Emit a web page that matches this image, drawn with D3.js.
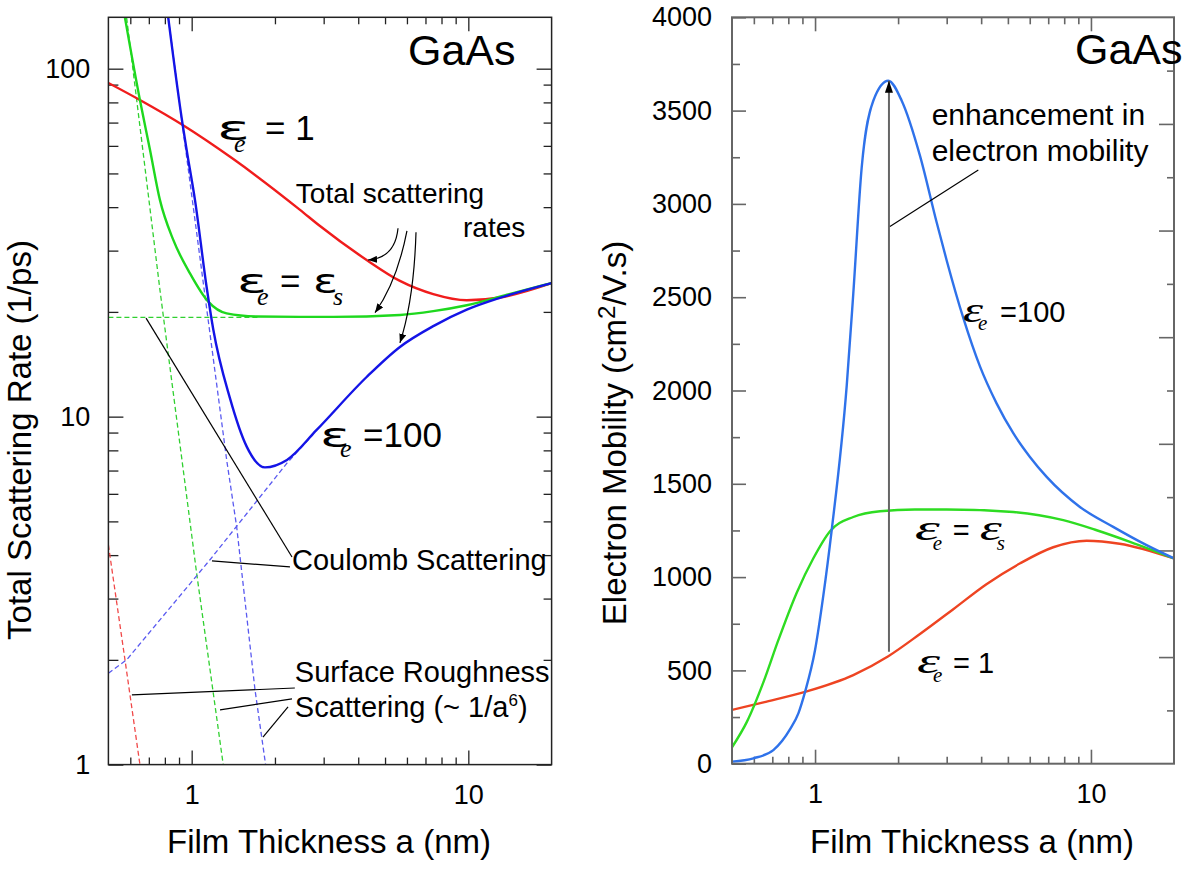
<!DOCTYPE html>
<html>
<head>
<meta charset="utf-8">
<script src="https://cdn.jsdelivr.net/npm/d3@7"></script>
<style>
  body { margin: 0; background: #fff; }
  svg { font-family: "Liberation Sans", Arial, Helvetica, sans-serif; }
</style>
</head>
<body>
<svg id="chart" width="1185" height="869"></svg>
<script>
// ---------- values ----------
const thicknessDomain = [0.5, 20];      // film thickness a (nm), both panels
const rateDomain = [1, 140.5];          // total scattering rate (1/ps)
const mobilityDomain = [0, 4000];       // electron mobility (cm2/V.s)

const thicknessTicks = [1, 10];
const thicknessMinor = [0.6, 0.7, 0.8, 0.9, 2, 3, 4, 5, 6, 7, 8, 9];
const rateTicks = [1, 10, 100];
const rateMinor = [2, 3, 4, 5, 6, 7, 8, 9, 20, 30, 40, 50, 60, 70, 80, 90];
const mobilityTicks = [0, 500, 1000, 1500, 2000, 2500, 3000, 3500, 4000];
const mobilityMinor = [250, 750, 1250, 1750, 2250, 2750, 3250, 3750];
// right edge of the mobility frame has its own unlabelled tick spacing
const frameDomain = [0, 7];
const frameTicks = [1, 2, 3, 4, 5, 6];
const frameMinor = [0.5, 1.5, 2.5, 3.5, 4.5, 5.5, 6.5];

// total scattering rates [a, rate]
const rateEps1 = [[0.5, 91.0], [0.65, 81.3], [0.928, 68.9], [1.414, 55.0], [2.464, 39.3], [2.91, 35.3],
  [4.29, 28.2], [5.66, 24.55], [7.47, 22.5], [9.87, 21.6], [13.0, 22.0], [20, 24.2]];
const rateEpsS = [[0.574, 140], [0.65, 81.3], [0.707, 58.4], [0.768, 41.9], [0.858, 32.2], [0.986, 25.8],
  [1.148, 21.4], [1.338, 19.8], [1.718, 19.4], [2.464, 19.35], [3.25, 19.35], [5.66, 19.6], [7.47, 20.1],
  [9.87, 20.9], [13.8, 22.4], [20, 24.2]];
const rateEps100 = [[0.823, 140], [0.928, 68.9], [0.959, 58.4], [1.028, 41.9], [1.133, 23.5], [1.197, 17.8],
  [1.375, 11.3], [1.581, 8.2], [1.84, 7.15], [2.21, 7.51], [2.83, 9.16], [4.29, 13.0], [5.66, 15.86],
  [7.47, 18.2], [9.87, 20.3], [13.0, 21.95], [20, 24.2]];

// component rates (dashed)
const coulombEpsS = [[0.5, 19.3], [1.75, 19.3]];
const coulombEps100 = [[0.5, 1.83], [0.582, 2.0], [1.165, 3.88], [2.21, 7.35], [2.75, 8.9]];
const roughEps1 = [[0.5, 4.28], [0.574, 2.0], [0.65, 1.0]];
const roughEpsS = [[0.582, 140], [0.768, 23.1], [1.042, 3.55], [1.30, 1.0]];
const roughEps100 = [[0.823, 140], [1.338, 7.51], [1.454, 4.83], [1.694, 1.64], [1.85, 1.0]];

// electron mobility [a, mobility]
const mobilityEps1 = [[0.5, 288], [0.65, 329], [0.92, 385], [1.376, 475], [1.843, 576], [2.40, 695],
  [3.17, 828], [4.18, 962], [5.54, 1074], [7.30, 1160], [9.65, 1195], [12.7, 1179], [20, 1100]];
const mobilityEpsS = [[0.5, 88], [0.566, 224], [0.65, 437], [0.736, 662], [0.859, 918], [0.986, 1101],
  [1.133, 1246], [1.376, 1322], [1.72, 1353], [2.3, 1362], [3.0, 1362], [5.23, 1349], [7.94, 1305],
  [10.49, 1251], [13.85, 1189], [20, 1100]];
const mobilityEps100 = [[0.5, 11], [0.598, 29], [0.706, 73], [0.812, 185], [0.87, 270], [0.92, 385], [1.0, 609],
  [1.072, 903], [1.149, 1252], [1.303, 2029], [1.376, 2520], [1.476, 3196], [1.626, 3553], [1.843, 3660],
  [2.061, 3553], [2.40, 3259], [2.76, 2900], [3.00, 2697], [3.45, 2386], [3.96, 2129], [4.55, 1931],
  [5.23, 1771], [6.01, 1644], [6.91, 1537], [9.12, 1376], [12.04, 1269], [15.91, 1171], [20, 1100]];

// annotations (data coordinates)
const rateArrows = [[[5.57, 34.8], [4.34, 28.2]], [[6.00, 34.2], [4.60, 19.9]], [[6.47, 33.9], [5.66, 16.3]]];
const coulombPointers = [[[0.684, 19.2], [2.305, 3.95]], [[1.184, 3.85], [2.266, 3.70]]];
const roughPointers = [[[0.608, 1.586], [2.36, 1.66]], [[1.266, 1.436], [2.305, 1.545]], [[1.81, 1.20], [2.23, 1.465]]];
const enhancementArrow = [[1.853, 600], [1.853, 3660]];
const enhancementPointer = [[1.868, 2879], [3.906, 3182]];

// ---------- layout ----------
const L = {x0: 108.4, x1: 551.6, y0: 17.3, y1: 764.6};
const R = {x0: 732, x1: 1174, y0: 17.3, y1: 763.7};

const svg = d3.select("#chart");

const xL = d3.scaleLog().domain(thicknessDomain).range([L.x0, L.x1]);
const yL = d3.scaleLog().domain(rateDomain).range([L.y1, L.y0]);
const xR = d3.scaleLog().domain(thicknessDomain).range([R.x0, R.x1]);
const yR = d3.scaleLinear().domain(mobilityDomain).range([R.y1, R.y0]);
const yFrame = d3.scaleLinear().domain(frameDomain).range([R.y1, R.y0]);

const defs = svg.append("defs");
[["clipL", L], ["clipR", R]].forEach(([id, b]) => {
  defs.append("clipPath").attr("id", id).append("rect")
    .attr("x", b.x0).attr("y", b.y0).attr("width", b.x1 - b.x0).attr("height", b.y1 - b.y0);
});
function marker(id, len, wid) {
  defs.append("marker").attr("id", id)
    .attr("viewBox", `0 0 ${len} ${wid}`).attr("refX", len).attr("refY", wid / 2)
    .attr("markerWidth", len).attr("markerHeight", wid)
    .attr("markerUnits", "userSpaceOnUse").attr("orient", "auto")
    .append("path").attr("d", `M0,0L${len},${wid / 2}L0,${wid}Z`).attr("fill", "#000");
}
marker("headSmall", 9, 7);
marker("headBig", 12, 8);

// ---------- axes ----------
function axisPart(g, gen, tr, vals, size, pad, fmt, color, width) {
  const a = g.append("g").attr("transform", tr)
    .call(gen.tickValues(vals).tickSize(-size).tickPadding(pad).tickFormat(fmt));
  a.select(".domain").remove();
  a.attr("font-family", null).attr("font-size", null);
  a.selectAll("line").attr("stroke", color).attr("stroke-width", width);
  a.selectAll("text").style("font-size", "27px").attr("fill", "#000");
  return a;
}
const none = () => "";
const fmtD = d3.format("d");

function panelAxes(x, y, yTicks, yMinor, b, color, width, yMaj, yMin, yPad) {
  const g = svg.append("g");
  axisPart(g, d3.axisBottom(x), `translate(0,${b.y1})`, thicknessTicks, 14, 20, fmtD, color, width);
  axisPart(g, d3.axisBottom(x), `translate(0,${b.y1})`, thicknessMinor, 7, 0, none, color, width);
  axisPart(g, d3.axisTop(x), `translate(0,${b.y0})`, thicknessTicks, 14, 0, none, color, width);
  axisPart(g, d3.axisTop(x), `translate(0,${b.y0})`, thicknessMinor, 7, 0, none, color, width);
  axisPart(g, d3.axisLeft(y), `translate(${b.x0},0)`, yTicks, yMaj, yPad, fmtD, color, width);
  axisPart(g, d3.axisLeft(y), `translate(${b.x0},0)`, yMinor, yMin, 0, none, color, width);
  return g;
}

panelAxes(xL, yL, rateTicks, rateMinor, L, "#222", 1.3, 15, 10, 18);
{
  const g = svg.append("g");
  axisPart(g, d3.axisRight(yL), `translate(${L.x1},0)`, rateTicks, 15, 0, none, "#222", 1.3);
  axisPart(g, d3.axisRight(yL), `translate(${L.x1},0)`, rateMinor, 8, 0, none, "#222", 1.3);
}
panelAxes(xR, yR, mobilityTicks, mobilityMinor, R, "#666", 1.6, 14, 8, 20);
{
  const g = svg.append("g");
  axisPart(g, d3.axisRight(yFrame), `translate(${R.x1},0)`, frameTicks, 15, 0, none, "#666", 1.6);
  axisPart(g, d3.axisRight(yFrame), `translate(${R.x1},0)`, frameMinor, 7, 0, none, "#666", 1.6);
}

// ---------- curves ----------
const lineL = d3.line().x(d => xL(d[0])).y(d => yL(d[1]));
const lineR = d3.line().x(d => xR(d[0])).y(d => yR(d[1]));
const smooth = d3.curveMonotoneX;

const gL = svg.append("g").attr("clip-path", "url(#clipL)");
[[roughEps1, "#f04848"], [roughEpsS, "#30d030"], [roughEps100, "#5a5af0"],
 [coulombEpsS, "#30d030"], [coulombEps100, "#5a5af0"]].forEach(([d, c]) => {
  gL.append("path").datum(d).attr("d", lineL.curve(d3.curveLinear))
    .attr("fill", "none").attr("stroke", c).attr("stroke-width", 1.3).attr("stroke-dasharray", "5,3");
});
[[rateEps1, "#f01c1c"], [rateEpsS, "#1ed81e"], [rateEps100, "#1414e6"]].forEach(([d, c]) => {
  gL.append("path").datum(d).attr("d", lineL.curve(smooth))
    .attr("fill", "none").attr("stroke", c).attr("stroke-width", 2.4);
});

const gR = svg.append("g").attr("clip-path", "url(#clipR)");
[[mobilityEps1, "#ee4422"], [mobilityEpsS, "#2edc22"], [mobilityEps100, "#2f72ea"]].forEach(([d, c]) => {
  gR.append("path").datum(d).attr("d", lineR.curve(smooth))
    .attr("fill", "none").attr("stroke", c).attr("stroke-width", 2.4);
});

// frames
[[L, "#222", 1.5], [R, "#666", 2]].forEach(([b, c, w]) => {
  svg.append("rect").attr("x", b.x0).attr("y", b.y0).attr("width", b.x1 - b.x0).attr("height", b.y1 - b.y0)
    .attr("fill", "none").attr("stroke", c).attr("stroke-width", w);
});

// ---------- annotations ----------
const ann = svg.append("g");
const bends = [[12, 14], [6, 10], [6, 12]];
rateArrows.forEach(([a, b], i) => {
  const p0 = [xL(a[0]), yL(a[1])], p2 = [xL(b[0]), yL(b[1])];
  const c = [(p0[0] + p2[0]) / 2 + bends[i][0], (p0[1] + p2[1]) / 2 + bends[i][1]];
  ann.append("path").attr("d", `M${p0}Q${c} ${p2}`).attr("fill", "none")
    .attr("stroke", "#000").attr("stroke-width", 1.2).attr("marker-end", "url(#headSmall)");
});
coulombPointers.concat(roughPointers).forEach(([a, b]) => {
  ann.append("line").attr("x1", xL(a[0])).attr("y1", yL(a[1])).attr("x2", xL(b[0])).attr("y2", yL(b[1]))
    .attr("stroke", "#000").attr("stroke-width", 1.2);
});
ann.append("line")
  .attr("x1", xR(enhancementArrow[0][0])).attr("y1", yR(enhancementArrow[0][1]))
  .attr("x2", xR(enhancementArrow[1][0])).attr("y2", yR(enhancementArrow[1][1]))
  .attr("stroke", "#666").attr("stroke-width", 2).attr("marker-end", "url(#headBig)");
ann.append("line")
  .attr("x1", xR(enhancementPointer[0][0])).attr("y1", yR(enhancementPointer[0][1]))
  .attr("x2", xR(enhancementPointer[1][0])).attr("y2", yR(enhancementPointer[1][1]))
  .attr("stroke", "#000").attr("stroke-width", 1.2);

function note(x, y, txt, size) {
  return ann.append("text").attr("x", x).attr("y", y).style("font-size", size + "px").text(txt);
}
note(xL(2.38), yL(41.1), "Total scattering", 28);
note(xL(9.57), yL(32.8), "rates", 28);
note(xL(2.305), yL(3.62), "Coulomb Scattering", 29);
note(xL(2.36), yL(1.73), "Surface Roughness", 29);
{
  const t = note(xL(2.36), yL(1.374), "Scattering (~ 1/a", 29);
  t.append("tspan").attr("dy", -11).style("font-size", "17px").text("6");
  t.append("tspan").attr("dy", 11).text(")");
}
note(xR(2.646), yR(3425), "enhancement in", 30);
note(xR(2.646), yR(3232), "electron mobility", 30);
note(xL(6.05), yL(102.5), "GaAs", 43);
note(xR(8.75), yR(3752), "GaAs", 43);

// epsilon labels
function epsLabel(px, py, o) {
  const t = ann.append("g").attr("transform", `translate(${px},${py})`);
  const eps = (x, w) => t.append("text").attr("x", x)
    .style("font-family", o.epsFamily).style("font-style", o.epsStyle).style("font-size", o.epsSize + "px")
    .attr("textLength", w).attr("lengthAdjust", "spacingAndGlyphs").text("ε");
  const sub = (x, s) => t.append("text").attr("x", x).attr("y", o.subDy)
    .style("font-family", "'Liberation Serif', 'Times New Roman', serif").style("font-style", "italic")
    .style("font-size", o.subSize + "px").text(s);
  eps(0, o.epsW);
  sub(o.subX, "e");
  t.append("text").attr("x", o.restX).style("font-size", o.restSize + "px").text(o.rest);
  if (o.eps2X != null) { eps(o.eps2X, o.eps2W); sub(o.sX, "s"); }
}
const bigEps = {epsFamily: "'DejaVu Sans', sans-serif", epsStyle: "normal", epsSize: 34, subSize: 26, restSize: 35};
const smallEps = {epsFamily: "'Liberation Serif', serif", epsStyle: "italic", epsSize: 36, subSize: 21, restSize: 29};
epsLabel(xL(1.235), yL(62.4), {...bigEps, epsW: 33, subX: 17, subDy: 12, restX: 48, rest: "= 1"});
epsLabel(xL(1.458), yL(22.6), {...bigEps, epsW: 30, subX: 20, subDy: 12, restX: 43, rest: "=",
  eps2X: 76, eps2W: 25, sX: 96});
epsLabel(xL(2.91), yL(8.2), {...bigEps, epsW: 30, subX: 20, subDy: 10, restX: 43, rest: "=100"});
epsLabel(xR(3.44), yR(2366), {...smallEps, epsW: 20, subX: 15, subDy: 8, restX: 37, rest: "=100"});
epsLabel(xR(2.30), yR(1198), {...smallEps, epsW: 25, subX: 18, subDy: 10, restX: 38, rest: "=",
  eps2X: 65, eps2W: 22, sX: 82});
epsLabel(xR(2.34), yR(486), {...smallEps, epsW: 23, subX: 16, subDy: 9, restX: 36, rest: "= 1"});

// ---------- axis titles ----------
svg.append("text").attr("transform", "translate(31,440) rotate(-90)").attr("text-anchor", "middle")
  .style("font-size", "33px").text("Total Scattering Rate (1/ps)");
{
  const t = svg.append("text").attr("transform", "translate(626,433) rotate(-90)").attr("text-anchor", "middle")
    .style("font-size", "33px").text("Electron Mobility (cm");
  t.append("tspan").attr("dy", -11).style("font-size", "24px").text("2");
  t.append("tspan").attr("dy", 11).text("/V.s)");
}
svg.append("text").attr("x", (L.x0 + L.x1) / 2 - 1).attr("y", 853).attr("text-anchor", "middle")
  .style("font-size", "33px").text("Film Thickness a (nm)");
svg.append("text").attr("x", (R.x0 + R.x1) / 2 + 19).attr("y", 853).attr("text-anchor", "middle")
  .style("font-size", "33px").text("Film Thickness a (nm)");
</script>
</body>
</html>
